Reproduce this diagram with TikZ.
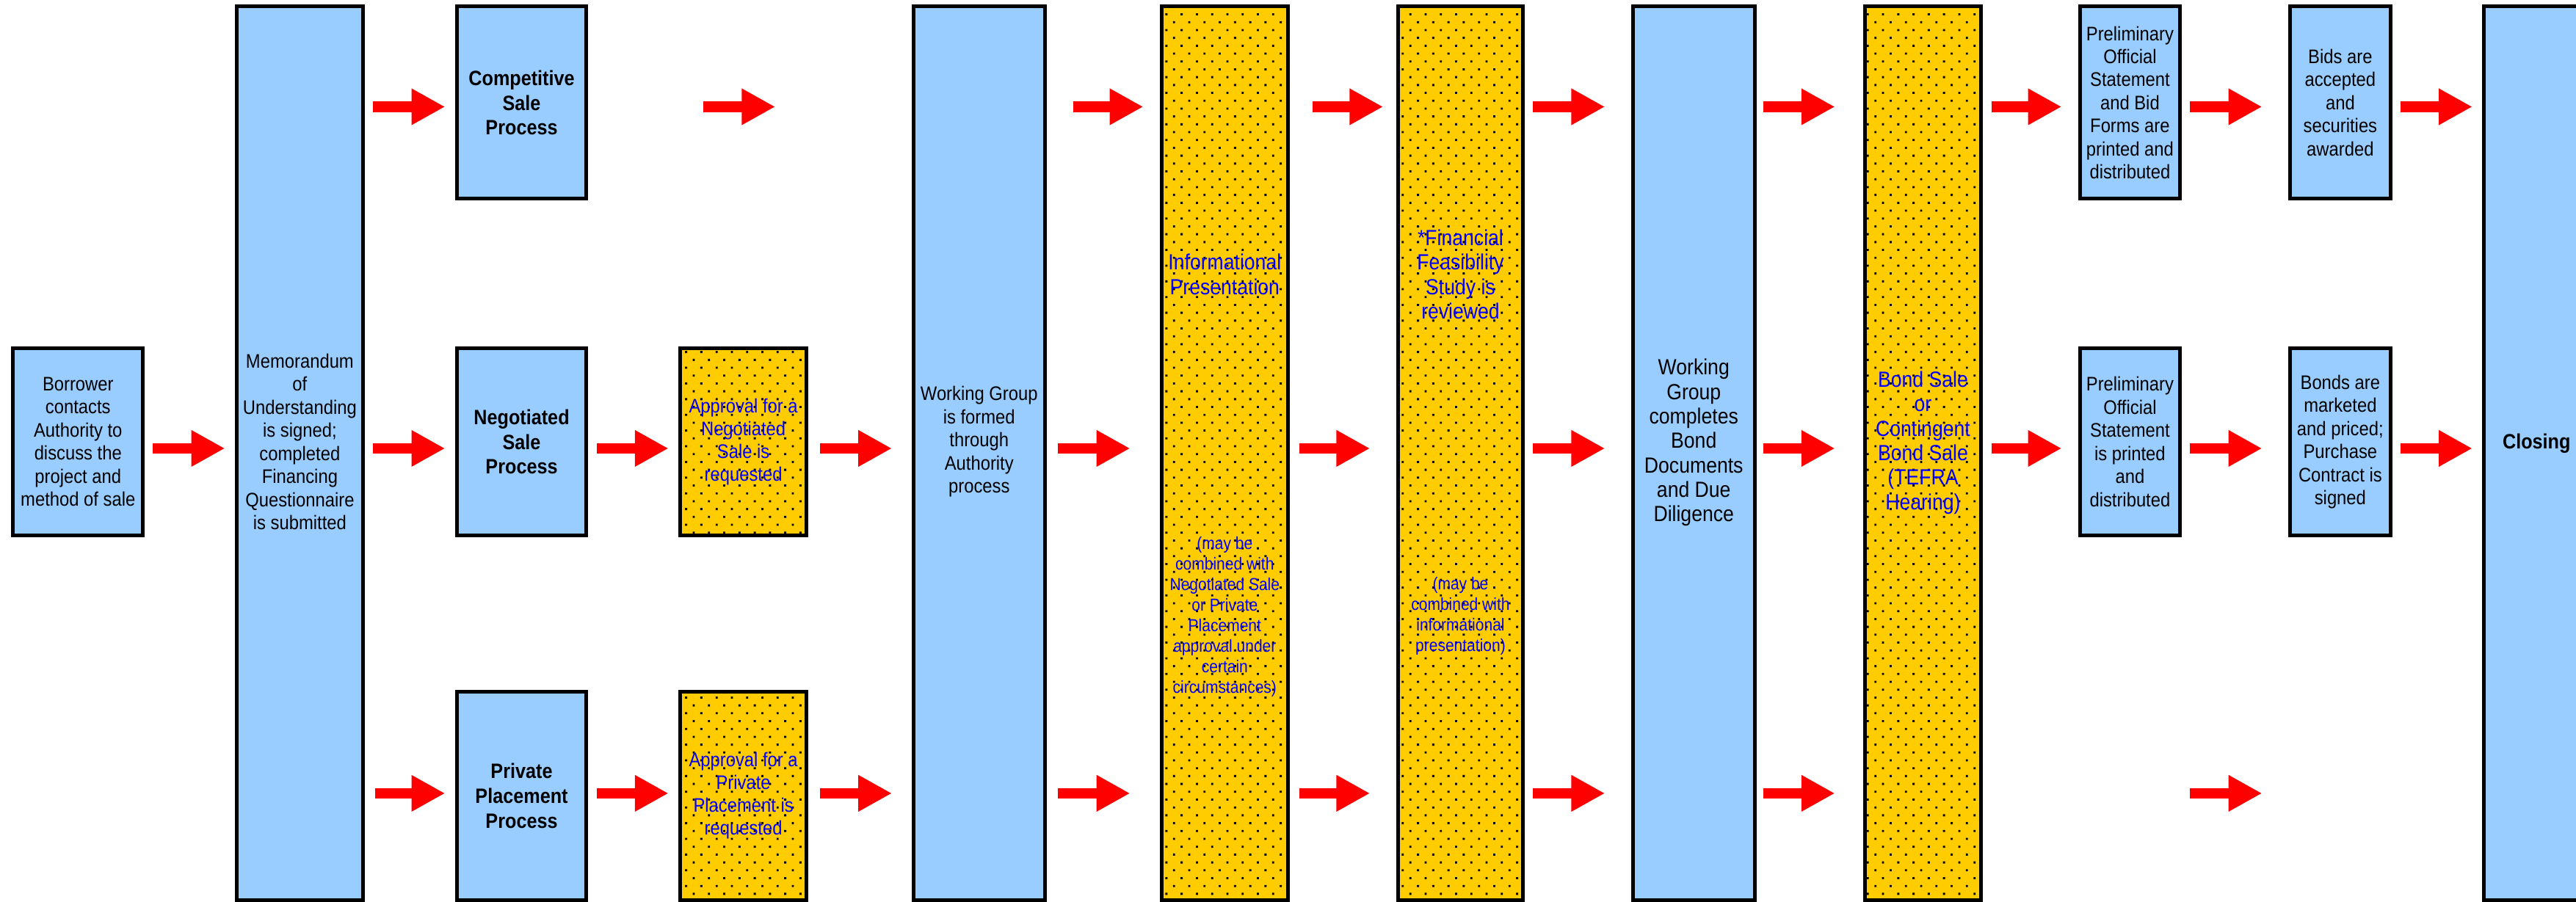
\documentclass[tikz,border=0pt]{standalone}
\usepackage{fontspec}
\setmainfont{Liberation Sans}[FakeStretch=0.89]
\usetikzlibrary{arrows.meta,patterns,positioning}
\definecolor{bleuciel}{RGB}{153,204,255}
\definecolor{jauneor}{RGB}{255,204,0}
\definecolor{bleutexte}{RGB}{0,0,255}
%trame de points des cases jaunes
\pgfdeclarepatternformonly{pointille}{\pgfqpoint{-0.5pt}{-0.5pt}}{\pgfqpoint{4pt}{4pt}}{\pgfqpoint{6.6pt}{6.8pt}}{%
  \pgfpathrectangle{\pgfqpoint{-0.45pt}{-0.45pt}}{\pgfqpoint{0.9pt}{0.9pt}}%
  \pgfpathrectangle{\pgfqpoint{2.85pt}{2.95pt}}{\pgfqpoint{0.9pt}{0.9pt}}%
  \pgfusepath{fill}}

\begin{document}
\begin{tikzpicture}[x=0.025cm, y=-0.025cm]
%définition des styles de cases et de flèches
\tikzset{boite/.style={draw, line width=1.6pt, inner sep=0pt, align=center},
  bleue/.style={boite, fill=bleuciel, font=\fontsize{8.5}{10}\selectfont},
  jaune/.style={boite, fill=jauneor, postaction={pattern=pointille, pattern color=black}, text=bleutexte, font=\fontsize{8.5}{9.8}\selectfont},
  taille/.style 2 args={minimum width=#1*0.025cm, minimum height=#2*0.025cm},
  texte/.style={align=center, inner sep=0pt, font=\fontsize{8.5}{10}\selectfont},
  gras/.style={font=\fontsize{9}{10.7}\selectfont\bfseries},
  grand/.style={font=\fontsize{9.5}{10.6}\selectfont},
  petit/.style={font=\fontsize{7.5}{8.9}\selectfont},
  fleche/.style 2 args={red, line width=0.16cm, -{Triangle[length=0.51cm,width=0.52cm]}, shorten <=#1*0.025cm, shorten >=#2*0.025cm}}

\useasboundingbox (0,0) rectangle (1568,549);
\coordinate (r1) at (0,65);
\coordinate (r2) at (0,273);
\coordinate (r3) at (0,483);

%cases
\node[bleue, taille={79}{114}] (emprunteur) at (47.5,269) {Borrower\\contacts\\Authority to\\discuss the\\project and\\method of sale};
\node[bleue, taille={77}{544}] (memo) at (182.5,276) {};
\node[texte] (memotxt) at (182.5,269) {Memorandum\\of\\Understanding\\is signed;\\completed\\Financing\\Questionnaire\\is submitted};

\node[bleue, gras, taille={79}{117}] (concurrentielle) at (317.5,62.5) {Competitive\\Sale\\Process};
\node[bleue, gras, taille={79}{114}] (negociee) at (317.5,269) {Negotiated\\Sale\\Process};
\node[bleue, gras, taille={79}{127}] (privee) at (317.5,484.5) {Private\\Placement\\Process};

\node[jaune, taille={77}{114}] (apprneg) at (452.5,269) {Approval for a\\Negotiated\\Sale is\\requested};
\node[jaune, taille={77}{127}] (apprpriv) at (452.5,484.5) {Approval for a\\Private\\Placement is\\requested};

\node[bleue, taille={80}{544}] (groupe) at (596,276) {};
\node[texte] (groupetxt) at (596,269) {Working Group\\is formed\\through\\Authority\\process};

\node[jaune, taille={77}{544}] (info) at (745.5,276) {};
\node[texte, grand, text=bleutexte] (infotxt) at (745.5,167) {Informational\\Presentation};
\node[texte, petit, text=bleutexte] (infonote) at (745.5,375.5) {(may be\\combined with\\Negotiated Sale\\or Private\\Placement\\approval under\\certain\\circumstances)};

\node[jaune, taille={76}{544}] (etude) at (889,276) {};
\node[texte, grand, text=bleutexte] (etudetxt) at (889,167) {*Financial\\Feasibility\\Study is\\reviewed};
\node[texte, petit, text=bleutexte] (etudenote) at (889,375) {(may be\\combined with\\informational\\presentation)};

\node[bleue, taille={74}{544}] (documents) at (1031,276) {};
\node[texte, grand] (doctxt) at (1031,269.5) {Working\\Group\\completes\\Bond\\Documents\\and Due\\Diligence};

\node[jaune, taille={71}{544}] (vente) at (1170.5,276) {};
\node[texte, grand, text=bleutexte] (ventetxt) at (1170.5,269.5) {Bond Sale\\or\\Contingent\\Bond Sale\\(TEFRA\\Hearing)};

\node[bleue, taille={61}{117}] (posA) at (1296.5,62.5) {Preliminary\\Official\\Statement\\and Bid\\Forms are\\printed and\\distributed};
\node[bleue, taille={61}{114}] (posB) at (1296.5,269) {Preliminary\\Official\\Statement\\is printed\\and\\distributed};
\node[bleue, taille={61}{117}] (offres) at (1424.5,62.5) {Bids are\\accepted\\and\\securities\\awarded};
\node[bleue, taille={61}{114}] (marche) at (1424.5,269) {Bonds are\\marketed\\and priced;\\Purchase\\Contract is\\signed};

\node[bleue, taille={68}{544}] (cloture) at (1546,276) {};
\node[texte, gras] (cloturetxt) at (1544,270) {Closing};

%flèches, ligne du haut
\draw[fleche={5}{6}] (memo.east |- r1) -- (concurrentielle.west |- r1);
\draw[fleche={70}{83}] (concurrentielle.east |- r1) -- (groupe.west |- r1);
\draw[fleche={16}{10}] (groupe.east |- r1) -- (info.west |- r1);
\draw[fleche={14}{8}] (info.east |- r1) -- (etude.west |- r1);
\draw[fleche={5}{16}] (etude.east |- r1) -- (documents.west |- r1);
\draw[fleche={4}{17}] (documents.east |- r1) -- (vente.west |- r1);
\draw[fleche={5}{10}] (vente.east |- r1) -- (posA.west |- r1);
\draw[fleche={5}{16}] (posA.east |- r1) -- (offres.west |- r1);
\draw[fleche={5}{6}] (offres.east |- r1) -- (cloture.west |- r1);

%ligne du milieu
\draw[fleche={5}{6}] (emprunteur.east |- r2) -- (memo.west |- r2);
\draw[fleche={5}{6}] (memo.east |- r2) -- (negociee.west |- r2);
\draw[fleche={5}{6}] (negociee.east |- r2) -- (apprneg.west |- r2);
\draw[fleche={7}{12}] (apprneg.east |- r2) -- (groupe.west |- r2);
\draw[fleche={7}{18}] (groupe.east |- r2) -- (info.west |- r2);
\draw[fleche={6}{16}] (info.east |- r2) -- (etude.west |- r2);
\draw[fleche={5}{16}] (etude.east |- r2) -- (documents.west |- r2);
\draw[fleche={4}{17}] (documents.east |- r2) -- (vente.west |- r2);
\draw[fleche={5}{10}] (vente.east |- r2) -- (posB.west |- r2);
\draw[fleche={5}{16}] (posB.east |- r2) -- (marche.west |- r2);
\draw[fleche={5}{6}] (marche.east |- r2) -- (cloture.west |- r2);

%ligne du bas
\draw[fleche={6}{6}] (memo.east |- r3) -- (privee.west |- r3);
\draw[fleche={5}{6}] (privee.east |- r3) -- (apprpriv.west |- r3);
\draw[fleche={7}{12}] (apprpriv.east |- r3) -- (groupe.west |- r3);
\draw[fleche={7}{18}] (groupe.east |- r3) -- (info.west |- r3);
\draw[fleche={6}{16}] (info.east |- r3) -- (etude.west |- r3);
\draw[fleche={5}{16}] (etude.east |- r3) -- (documents.west |- r3);
\draw[fleche={4}{17}] (documents.east |- r3) -- (vente.west |- r3);
\draw[fleche={126}{134}] (vente.east |- r3) -- (cloture.west |- r3);
\end{tikzpicture}
\end{document}
